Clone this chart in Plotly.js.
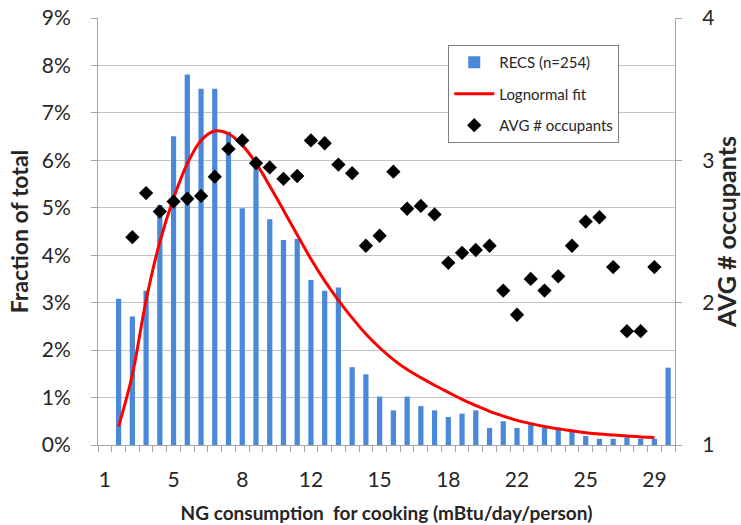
<!DOCTYPE html>
<html>
<head>
<meta charset="utf-8">
<script src="https://cdn.plot.ly/plotly-3.0.1.min.js"></script>
<style>html,body{margin:0;padding:0;background:#fff;}#chart{width:741px;height:525px;}</style>
</head>
<body>
<div id="chart"></div>
<script>
// Bin number (category position along the x axis)
const binNo = [1,2,3,4,5,6,7,8,9,10,11,12,13,14,15,16,17,18,19,20,21,22,23,24,25,26,27,28,29,30,31,32,33,34,35,36,37,38,39,40,41,42];
// Tick labels shown every 5th bin
const tickBins = [1,6,11,16,21,26,31,36,41];
const tickLabels = ['1','5','8','12','15','18','22','25','29'];

// RECS (n=254) fraction of total
const recsShare = [null,0.0308,0.0271,0.0325,0.0506,0.0651,0.0781,0.0751,0.0751,0.0660,0.0499,
  0.0590,0.0476,0.0432,0.0434,0.0348,0.0325,0.0332,0.0164,0.0149,0.0102,
  0.0073,0.0102,0.0082,0.0073,0.0059,0.0066,0.0073,0.0036,0.0050,0.0036,
  0.0047,0.0036,0.0037,0.0030,0.0019,0.0013,0.0013,0.0016,0.0013,0.0013,0.0163];

// Lognormal fit
const lognormalFit = [null,0.0039,0.0148,0.0305,0.0428,0.0520,0.0593,0.0642,0.0662,0.0656,0.0632,
  0.0594,0.0546,0.0495,0.0443,0.0392,0.0346,0.0305,0.0268,0.0234,0.0205,
  0.0180,0.0159,0.0142,0.0126,0.0111,0.0096,0.0083,0.0071,0.0061,0.0052,
  0.0045,0.0039,0.0034,0.0030,0.0026,0.0023,0.0021,0.0019,0.0017,0.0016,null];

// AVG # occupants
const avgOccupants = [null,null,2.46,2.77,2.64,2.71,2.73,2.75,2.885,3.08,3.14,
  2.98,2.95,2.87,2.89,3.14,3.12,2.97,2.91,2.40,2.47,
  2.92,2.66,2.68,2.62,2.28,2.35,2.37,2.40,2.085,1.915,
  2.167,2.085,2.185,2.40,2.57,2.60,2.25,1.80,1.80,2.25,null];

const axisGrey = '#a6a6a6';
const fontFam = 'Lato, "Open Sans", sans-serif';

const traces = [
  {type:'bar', x:binNo, y:recsShare, name:'RECS (n=254)', legendgroup:'a',
   marker:{color:'#4a88da'}, yaxis:'y', hoverinfo:'skip'},
  {type:'scatter', mode:'lines', x:binNo, y:lognormalFit, name:'Lognormal fit', legendgroup:'b',
   line:{color:'#ff0000', width:3, shape:'spline', smoothing:1}, yaxis:'y', connectgaps:false},
  {type:'scatter', mode:'markers', x:binNo, y:avgOccupants, name:'AVG # occupants', legendgroup:'c',
   marker:{symbol:'diamond', size:11, color:'#000000'}, yaxis:'y2'}
];

const layout = {
  width:741, height:525,
  margin:{l:98, r:66, t:18, b:80},
  paper_bgcolor:'#ffffff', plot_bgcolor:'#ffffff',
  font:{family:fontFam, color:'#262626'},
  bargap:0.62,
  showlegend:true,
  legend:{x:0.607, y:0.937, xanchor:'left', yanchor:'top', bgcolor:'#ffffff',
    bordercolor:'#7f7f7f', borderwidth:1, font:{size:15, family:fontFam, color:'#262626'},
    tracegroupgap:9, itemwidth:40, traceorder:'grouped'},
  xaxis:{range:[0.5,42.5], tickmode:'array', tickvals:tickBins, ticktext:tickLabels,
    ticks:'', showgrid:false, showline:true, linecolor:axisGrey, linewidth:1, zeroline:false,
    tickfont:{size:21}, ticklabelstandoff:16,
    minor:{tickmode:'linear', tick0:0.5, dtick:1, ticks:'outside', ticklen:6, tickcolor:axisGrey, tickwidth:1, showgrid:false},
    title:{text:'NG consumption  for cooking (mBtu/day/person)', font:{size:19, weight:'bold'}, standoff:16}},
  yaxis:{range:[0,0.09], dtick:0.01, tick0:0, tickformat:'.0%', ticks:'outside', ticklen:6,
    tickcolor:axisGrey, showline:true, linecolor:axisGrey, gridcolor:'#c4c4c4', gridwidth:1,
    zeroline:false, tickfont:{size:21}, ticklabelstandoff:16,
    title:{text:'Fraction of total', font:{size:23, weight:'bold'}, standoff:6}},
  yaxis2:{overlaying:'y', side:'right', range:[1,4], dtick:1, tick0:1, ticks:'outside', ticklen:6,
    tickcolor:axisGrey, showgrid:false, showline:true, linecolor:axisGrey, zeroline:false,
    tickfont:{size:21}, ticklabelstandoff:16,
    title:{text:'AVG # occupants', font:{size:25, weight:'bold'}, standoff:8}}
};

Plotly.newPlot('chart', traces, layout, {displayModeBar:false, staticPlot:true});
</script>
</body>
</html>
